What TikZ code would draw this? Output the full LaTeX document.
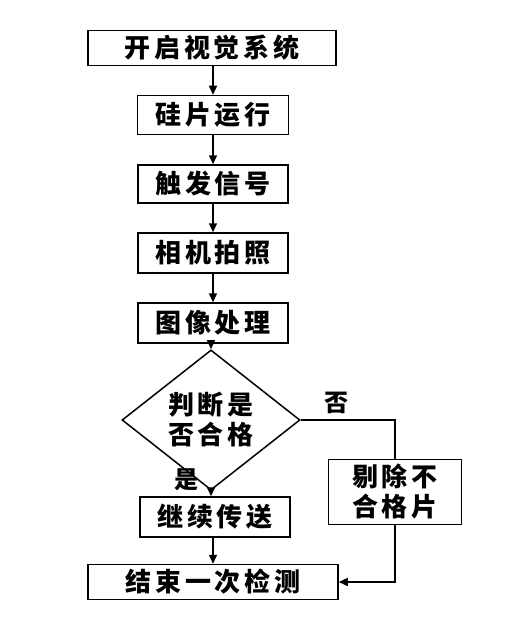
\documentclass[tikz,border=0pt]{standalone}
\usepackage{fontspec}
\newfontfamily\cjk[LetterSpace=14]{Noto Sans CJK SC}
\usetikzlibrary{shapes.geometric,arrows.meta}
\begin{document}
\begin{tikzpicture}[x=1pt,y=-1pt,
  every node/.style={font=\cjk\bfseries\fontsize{26}{30}\selectfont, align=center, inner sep=0pt},
  box/.style={draw, line width=1.5pt, minimum height=39pt},
  dia/.style={draw, line width=1.5pt, diamond, minimum width=178pt, minimum height=98pt},
  arr/.style={line width=1.5pt, -{Triangle[length=9pt,width=8pt]}},
  ln/.style={line width=1.5pt},
  lbl/.style={font=\cjk\bfseries\fontsize{24}{24}\selectfont}]
\useasboundingbox (0,0) rectangle (512,623);
\node[box, minimum width=248pt, minimum height=35pt] (b1) at (212,48) {开启视觉系统};
\node[box, minimum width=151pt] (b2) at (213,115) {硅片运行};
\node[box, minimum width=150pt, minimum height=38pt] (b3) at (213,184) {触发信号};
\node[box, minimum width=150pt, minimum height=40pt] (b4) at (213,253) {相机拍照};
\node[box, minimum width=150pt, minimum height=40pt] (b5) at (213,323) {图像处理};
\node[dia] (d) at (211,420) {判断是\\否合格};
\node[box, minimum width=133pt, minimum height=65pt] (r) at (395,492) {剔除不\\合格片};
\node[box, minimum width=150pt, minimum height=40pt] (c) at (215,517) {继续传送};
\node[box, minimum width=250pt, minimum height=35pt] (e) at (213,582) {结束一次检测};
\node[lbl] (no) at (336,403) {否};
\node[lbl] (yes) at (186,480) {是};
\draw[arr] (b1.south -| b2.north) -- (b2.north);
\draw[arr] (b2.south) -- (b3.north);
\draw[arr] (b3.south) -- (b4.north);
\draw[arr] (b4.south) -- (b5.north);
\draw[arr] (b5.south -| d.north) -- (d.north);
\draw[arr] (d.south) -- (d.south |- c.north);
\draw[arr] (c.south -| e.north) -- (e.north);
\draw[ln] (d.east) -| (r.north);
\draw[arr] (r.south) |- (e.east);
\end{tikzpicture}
\end{document}
